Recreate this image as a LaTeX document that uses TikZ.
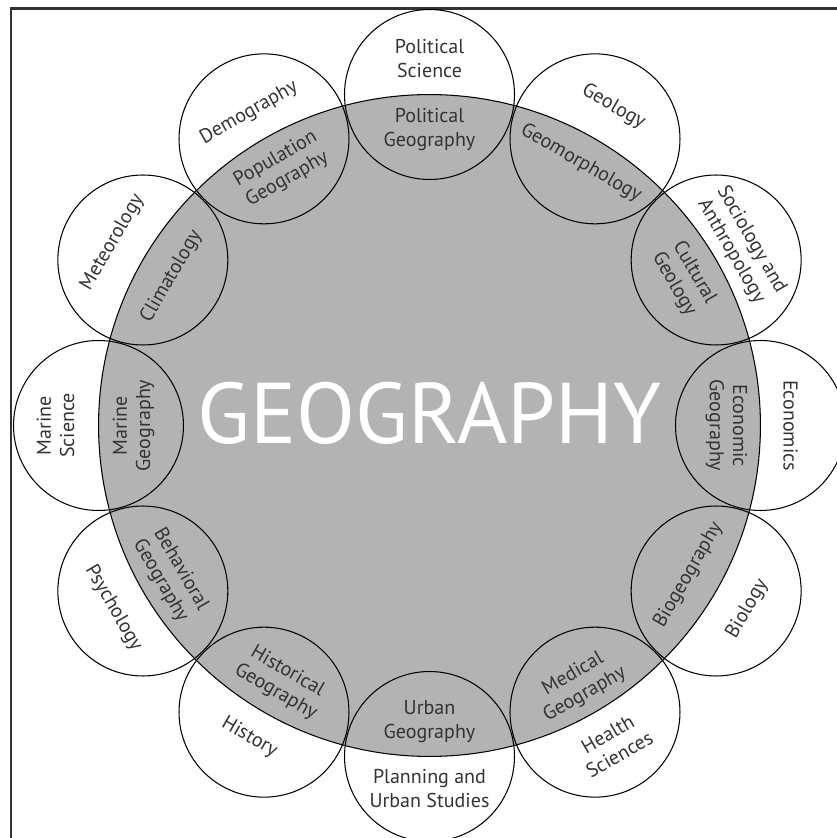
\documentclass[tikz,border=0pt]{standalone}
\usepackage{fontspec}
\setmainfont{PT Sans}
\definecolor{geogray}{HTML}{B3B3B3}
\definecolor{textgray}{HTML}{333333}

\begin{document}
\begin{tikzpicture}[x=0.02cm, y=0.02cm,
	subfield/.style={circle, draw, line width=0.6pt, minimum size=3.4cm, inner sep=0pt},
	fieldname/.style={align=center, text=textgray, inner sep=0pt,
		font=\fontsize{11.4}{13.3}\selectfont}]
	% Radius of the main circle
	\def\R{331}
	\useasboundingbox (-429.5,-412.5) rectangle (407.5,425.5);

	% Frame
	\draw[line width=1.7pt, textgray] (-418.5,-430) -- (-418.5,417) -- (430,417);

	% Main circle
	\node[circle, fill=geogray, draw, line width=0.6pt, minimum size=13.24cm, inner sep=0pt] (geo) at (0,0) {};

	% Subfields round the main circle
	\foreach \a/\k/\inlabel/\outlabel/\din/\dout in {
		90/1/{Political\\Geography}/{Political\\Science}/35/36,
		60/2/Geomorphology/Geology/28/37,
		30/3/{Cultural\\Geology}/{Sociology and\\Anthropology}/37/29,
		0/4/{Economic\\Geography}/Economics/34/30,
		-30/5/Biogeography/Biology/32/36,
		-60/6/{Medical\\Geography}/{Health\\Sciences}/32/37,
		-90/7/{Urban\\Geography}/{Planning and\\Urban Studies}/35/32,
		-120/8/{Historical\\Geography}/History/35/29,
		-150/9/{Behavioral\\Geography}/Psychology/32/34,
		180/10/{Marine\\Geography}/{Marine\\Science}/35/43,
		150/11/Climatology/Meteorology/33/35,
		120/12/{Population\\Geography}/Demography/35/30} {
		\pgfmathsetmacro{\rot}{ifthenelse(\a>=0, \a-90, \a+90)}
		\node[subfield] (c\k) at ({\a}:{\R}) {};
		\node[fieldname, rotate=\rot] (in\k) at ({\a}:{\R-\din}) {\inlabel};
		\node[fieldname, rotate=\rot] (out\k) at ({\a}:{\R+\dout}) {\outlabel};
	}

	% Title
	\node[text=white, font=\fontsize{49}{52}\selectfont, inner sep=0pt] (title) at (0,12) {GEOGRAPHY};
\end{tikzpicture}
\end{document}
